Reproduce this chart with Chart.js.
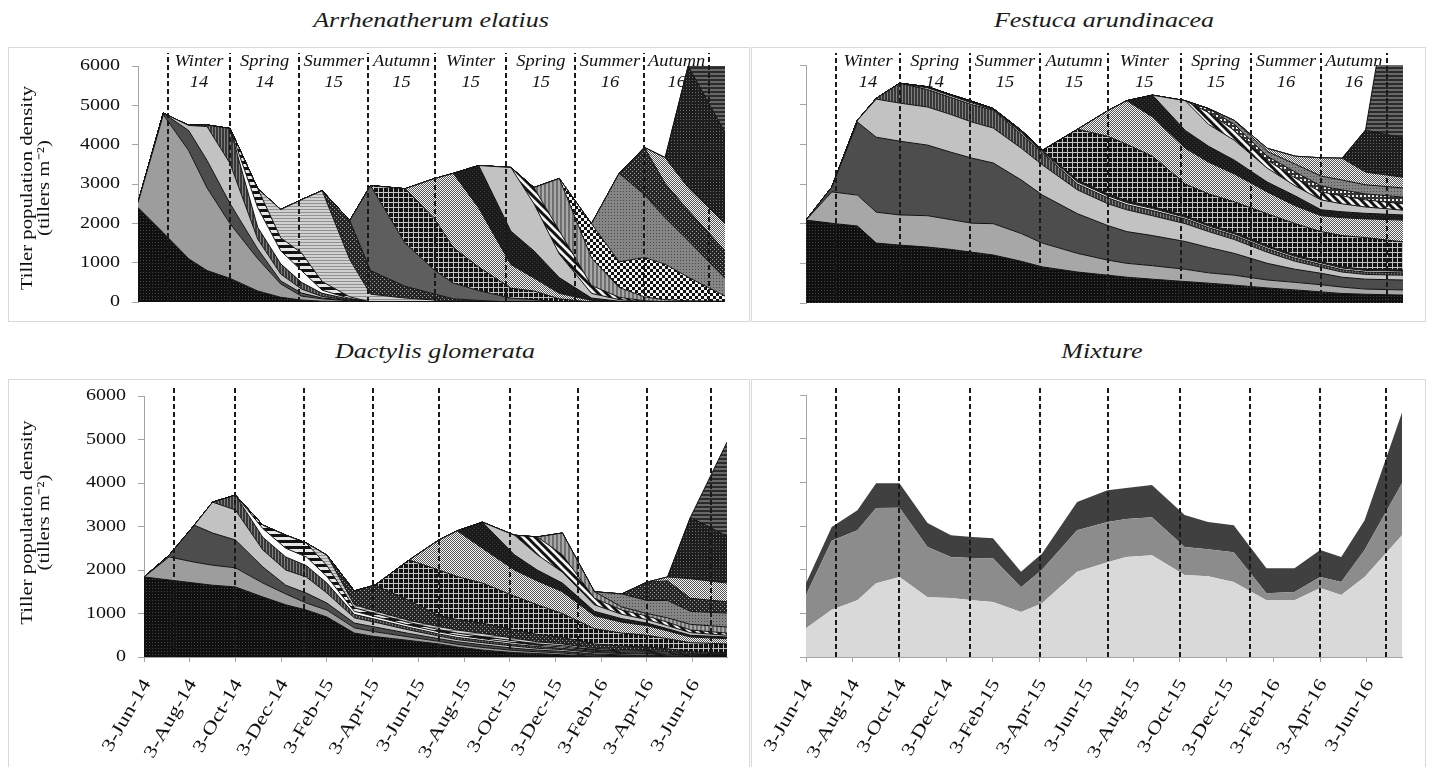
<!DOCTYPE html>
<html>
<head>
<meta charset="utf-8">
<script src="https://cdn.jsdelivr.net/npm/chart.js@4.4.0/dist/chart.umd.min.js"></script>
<style>
  html, body { margin: 0; padding: 0; background: #fff; }
  body { width: 1430px; height: 767px; position: relative; overflow: hidden; }
  .box { position: absolute; border: 1px solid #d9d9d9; box-sizing: border-box; }
  canvas { position: absolute; }
  .title {
    position: absolute; width: 400px; text-align: center; line-height: 24px;
    font: italic 20px "Liberation Serif", "Times New Roman", serif; color: #1a1a1a;
    transform: scaleX(1.3);
  }
</style>
</head>
<body>
<div class="box" style="left:8px;top:47px;width:742px;height:275px"></div>
<div class="box" style="left:751px;top:47px;width:675px;height:275px"></div>
<div class="box" style="left:8px;top:379px;width:742px;height:400px"></div>
<div class="box" style="left:751px;top:379px;width:675px;height:400px"></div>

<div class="title" style="left:231px;top:9px">Arrhenatherum elatius</div>
<div class="title" style="left:904px;top:9px">Festuca arundinacea</div>
<div class="title" style="left:235px;top:340px">Dactylis glomerata</div>
<div class="title" style="left:902px;top:340px">Mixture</div>

<canvas id="elatius" width="742" height="273" style="left:8px;top:47px"></canvas>
<canvas id="festuca" width="674" height="273" style="left:752px;top:47px"></canvas>
<canvas id="dactylis" width="742" height="389" style="left:8px;top:378px"></canvas>
<canvas id="mixture" width="674" height="389" style="left:752px;top:378px"></canvas>

<script>
// sampling dates, in months after 3-Jun-14
const sampleMonths = [0, 1.1, 2.2, 3.0, 4.0, 5.2, 6.2, 7.1, 8.0, 9.2, 10.1, 11.6, 12.9, 13.7, 14.8, 16.2, 17.2, 18.3, 19.7, 20.9, 22.0, 22.9, 23.9, 25.5];

// x tick labels (every two months)
const dateTicks = [0, 2, 4, 6, 8, 10, 12, 14, 16, 18, 20, 22, 24];
const dateLabels = ['3-Jun-14', '3-Aug-14', '3-Oct-14', '3-Dec-14', '3-Feb-15', '3-Apr-15', '3-Jun-15',
  '3-Aug-15', '3-Oct-15', '3-Dec-15', '3-Feb-16', '3-Apr-16', '3-Jun-16'];

// season boundaries (dashed lines) and their names
const seasonLines = [1.3, 4.0, 7.0, 10.0, 12.9, 16.0, 19.0, 22.0, 24.8];
const seasonNames = ['Winter', 'Spring', 'Summer', 'Autumn', 'Winter', 'Spring', 'Summer', 'Autumn'];
const seasonYears = ['14', '14', '15', '15', '15', '15', '16', '16'];

const yTitleLines = ['Tiller population density', '(tillers m\u207B\u00B2)'];

// tiller cohorts, tillers m-2 at each sampling date (bottom cohort first)
const elatiusCohorts = [
  [2400,1760,1100,800,600,280,120,50,20,10,0,0,0,0,0,0,0,0,0,0,0,0,0,0],
  [125,3000,2750,2100,1390,820,340,100,60,20,0,0,0,0,0,0,0,0,0,0,0,0,0,0],
  [0,40,510,700,510,250,75,80,20,10,0,0,0,0,0,0,0,0,0,0,0,0,0,0],
  [0,0,130,860,1020,250,175,100,40,10,0,0,0,0,0,0,0,0,0,0,0,0,0,0],
  [0,0,0,40,890,300,260,170,80,20,0,0,0,0,0,0,0,0,0,0,0,0,0,0],
  [0,0,0,0,0,500,330,300,80,20,0,0,0,0,0,0,0,0,0,0,0,0,0,0],
  [0,0,0,0,0,480,330,450,220,40,0,0,0,0,0,0,0,0,0,0,0,0,0,0],
  [0,0,0,0,0,0,720,1350,2310,950,200,100,50,0,0,0,0,0,0,0,0,0,0,0],
  [0,0,0,0,0,0,0,0,0,990,600,300,150,80,40,0,0,0,0,0,0,0,0,0],
  [0,0,0,0,0,0,0,0,0,0,2160,1100,600,400,250,100,60,0,0,0,0,0,0,0],
  [0,0,0,0,0,0,0,0,0,0,0,1380,1300,900,600,250,220,80,0,0,0,0,0,0],
  [0,0,0,0,0,0,0,0,0,0,0,0,1040,1890,1500,600,330,140,40,0,0,0,0,0],
  [0,0,0,0,0,0,0,0,0,0,0,0,0,0,1080,850,690,400,60,20,0,0,0,0],
  [0,0,0,0,0,0,0,0,0,0,0,0,0,0,0,1620,1200,600,120,40,10,0,0,0],
  [0,0,0,0,0,0,0,0,0,0,0,0,0,0,0,0,410,590,200,60,20,10,0,0],
  [0,0,0,0,0,0,0,0,0,0,0,0,0,0,0,0,0,1330,700,250,100,50,30,20],
  [0,0,0,0,0,0,0,0,0,0,0,0,0,0,0,0,0,0,870,650,1000,900,600,130],
  [0,0,0,0,0,0,0,0,0,0,0,0,0,0,0,0,0,0,0,2250,1600,1180,930,450],
  [0,0,0,0,0,0,0,0,0,0,0,0,0,0,0,0,0,0,0,0,1200,870,770,700],
  [0,0,0,0,0,0,0,0,0,0,0,0,0,0,0,0,0,0,0,0,0,660,580,690],
  [0,0,0,0,0,0,0,0,0,0,0,0,0,0,0,0,0,0,0,0,0,0,3090,2320],
  [0,0,0,0,0,0,0,0,0,0,0,0,0,0,0,0,0,0,0,0,0,0,0,1690]
];

const festucaCohorts = [
  [2090,2010,1940,1510,1460,1410,1350,1280,1210,1050,910,780,700,650,600,540,500,450,380,330,280,240,220,200],
  [0,790,780,780,760,790,750,730,790,700,600,470,380,350,340,310,260,250,200,190,180,160,130,130],
  [0,120,1840,1890,1860,1780,1700,1640,1530,1350,1210,1000,870,800,760,700,640,550,420,330,290,250,250,250],
  [0,0,50,960,960,960,950,910,880,800,760,600,550,550,500,450,400,350,280,200,150,130,120,120],
  [0,0,0,20,500,440,430,440,450,350,300,150,150,130,130,120,100,100,90,80,70,60,60,60],
  [0,0,0,0,0,40,40,40,20,40,30,50,50,50,50,40,40,40,40,40,40,40,40,40],
  [0,0,0,0,0,30,30,40,20,60,40,50,50,50,50,40,40,40,40,40,30,30,30,30],
  [0,0,0,0,0,0,0,0,0,0,0,1280,1450,1420,1270,800,770,770,800,790,760,790,800,710],
  [0,0,0,0,0,0,0,0,0,0,0,0,650,1100,990,900,800,700,550,450,400,450,470,550],
  [0,0,0,0,0,0,0,0,0,0,0,0,0,0,550,450,400,350,250,250,150,150,140,130],
  [0,0,0,0,0,0,0,0,0,0,0,0,0,0,0,750,550,500,350,250,250,200,160,120],
  [0,0,0,0,0,0,0,0,0,0,0,0,0,0,0,0,300,250,200,200,200,200,180,160],
  [0,0,0,0,0,0,0,0,0,0,0,0,0,0,0,0,100,150,100,150,150,150,150,170],
  [0,0,0,0,0,0,0,0,0,0,0,0,0,0,0,0,0,100,120,200,250,250,230,230],
  [0,0,0,0,0,0,0,0,0,0,0,0,0,0,0,0,0,0,80,200,460,550,320,270],
  [0,0,0,0,0,0,0,0,0,0,0,0,0,0,0,0,0,0,0,0,0,0,1060,990],
  [0,0,0,0,0,0,0,0,0,0,0,0,0,0,0,0,0,0,0,0,0,0,0,5840]
];

const dactylisCohorts = [
  [1840,1770,1700,1650,1610,1380,1200,1080,920,550,470,380,300,230,160,100,80,50,20,10,5,0,0,0],
  [0,530,480,460,440,320,250,160,160,120,110,80,60,60,60,50,40,40,20,20,15,10,0,0],
  [0,40,850,740,640,370,200,230,160,110,110,80,60,60,60,50,40,40,30,20,20,20,10,10],
  [0,0,0,710,690,390,350,370,230,120,110,80,60,50,50,50,40,40,30,30,30,20,20,10],
  [0,0,0,0,340,290,300,260,230,80,70,60,50,50,50,40,40,30,30,20,20,20,10,10],
  [0,0,0,0,0,200,200,200,150,70,60,50,50,50,40,40,30,30,20,20,20,20,10,10],
  [0,0,0,0,0,80,300,320,250,80,70,60,50,50,50,40,30,30,20,20,20,20,10,10],
  [0,0,0,0,0,0,0,0,240,70,60,50,70,70,70,60,50,40,30,20,20,20,20,10],
  [0,0,0,0,0,0,0,0,0,320,590,460,250,240,240,190,170,150,100,90,80,60,40,40],
  [0,0,0,0,0,0,0,0,0,0,0,930,1050,990,920,780,680,550,350,300,270,230,210,200],
  [0,0,0,0,0,0,0,0,0,0,0,0,690,1050,800,600,550,500,300,250,220,180,130,120],
  [0,0,0,0,0,0,0,0,0,0,0,0,0,0,600,350,250,200,100,80,60,50,40,40],
  [0,0,0,0,0,0,0,0,0,0,0,0,0,0,0,450,350,250,150,100,80,70,60,40],
  [0,0,0,0,0,0,0,0,0,0,0,0,0,0,0,0,410,400,150,100,80,80,60,50],
  [0,0,0,0,0,0,0,0,0,0,0,0,0,0,0,0,0,500,150,70,60,100,130,140],
  [0,0,0,0,0,0,0,0,0,0,0,0,0,0,0,0,0,0,0,300,300,400,300,320],
  [0,0,0,0,0,0,0,0,0,0,0,0,0,0,0,0,0,0,0,0,420,450,300,260],
  [0,0,0,0,0,0,0,0,0,0,0,0,0,0,0,0,0,0,0,0,0,90,450,430],
  [0,0,0,0,0,0,0,0,0,0,0,0,0,0,0,0,0,0,0,0,0,0,1410,1080],
  [0,0,0,0,0,0,0,0,0,0,0,0,0,0,0,0,0,0,0,0,0,0,0,2160]
];

const mixtureLight = [660,1080,1300,1690,1830,1370,1350,1300,1260,1030,1230,1950,2170,2290,2330,1880,1850,1720,1300,1300,1580,1420,1830,2790];
const mixtureMid = [760,1580,1600,1720,1590,1150,940,970,1000,570,770,950,920,870,870,640,620,680,160,190,250,300,620,1190];
const mixtureDark = [270,315,460,570,560,550,500,480,460,350,370,650,730,710,740,730,620,620,570,540,620,570,680,1620];

// fill style names per cohort
const elatiusFills = ['blackDots','grey','dark','light','vStripes','white','hStripesBold','hStripesFine','darkDots','dark2',
  'gridDark','checkFine','black','light','diag','vStripesGrey','checkBig','greyDots','darkDots','checkFine','darkDots2','hStripesDark'];
const festucaFills = ['blackDots','greyB','dark','light','vStripes','white','black','gridDark','checkFine','black','light',
  'diag','whiteDots','greyDots','checkFine','darkDots2','hStripesDark'];
const dactylisFills = ['blackDots','grey','dark','light','vStripes','white','hStripesBold','hStripesFine','darkDots','gridDark',
  'checkFine','black','light','diag','vStripesGrey','greyDots','darkDots','checkFine','darkDots2','hStripesDark'];
const mixtureFills = ['#d9d9d9', '#8c8c8c', '#404040'];

const TEXT = '#111';
const AXIS = '#a6a6a6';
const SERIF = '"Liberation Serif", "Times New Roman", serif';

function pattern(size, bg, paint) {
  const c = document.createElement('canvas');
  c.width = c.height = size;
  const g = c.getContext('2d');
  g.fillStyle = bg;
  g.fillRect(0, 0, size, size);
  paint(g);
  return g.createPattern(c, 'repeat');
}

const patterns = {
  blackDots: pattern(3, '#101010', g => { g.fillStyle = '#454545'; g.fillRect(0, 0, 1, 1); }),
  black: pattern(4, '#1b1b1b', g => { g.fillStyle = '#363636'; g.fillRect(0, 0, 1, 1); g.fillRect(2, 2, 1, 1); }),
  grey: '#9d9d9d',
  greyB: '#a7a7a7',
  dark: '#4d4d4d',
  dark2: '#5e5e5e',
  light: '#c2c2c2',
  white: '#fbfbfb',
  vStripes: pattern(3, '#383838', g => { g.fillStyle = '#808080'; g.fillRect(0, 0, 1, 3); }),
  vStripesGrey: pattern(4, '#a8a8a8', g => { g.fillStyle = '#6e6e6e'; g.fillRect(0, 0, 2, 4); }),
  hStripesBold: pattern(6, '#e6e6e6', g => { g.fillStyle = '#121212'; g.fillRect(0, 0, 6, 3); }),
  hStripesFine: pattern(3, '#d0d0d0', g => { g.fillStyle = '#909090'; g.fillRect(0, 0, 3, 1); }),
  hStripesDark: pattern(4, '#686868', g => { g.fillStyle = '#2b2b2b'; g.fillRect(0, 0, 4, 2); }),
  darkDots: pattern(4, '#262626', g => { g.fillStyle = '#a0a0a0'; g.fillRect(0, 0, 1, 1); g.fillRect(2, 2, 1, 1); }),
  darkDots2: pattern(3, '#1e1e1e', g => { g.fillStyle = '#6a6a6a'; g.fillRect(0, 0, 1, 1); }),
  gridDark: pattern(5, '#141414', g => { g.fillStyle = '#c4c4c4'; g.fillRect(0, 0, 5, 1); g.fillRect(0, 0, 1, 5); }),
  checkFine: pattern(2, '#f6f6f6', g => { g.fillStyle = '#555'; g.fillRect(0, 0, 1, 1); g.fillRect(1, 1, 1, 1); }),
  checkBig: pattern(6, '#f4f4f4', g => { g.fillStyle = '#111'; g.fillRect(0, 0, 3, 3); g.fillRect(3, 3, 3, 3); }),
  diag: pattern(8, '#f4f4f4', g => {
    g.strokeStyle = '#111'; g.lineWidth = 3; g.beginPath();
    g.moveTo(-2, -2); g.lineTo(10, 10); g.moveTo(-2, 6); g.lineTo(2, 10); g.moveTo(6, -2); g.lineTo(10, 2);
    g.stroke();
  }),
  greyDots: pattern(3, '#858585', g => { g.fillStyle = '#4a4a4a'; g.fillRect(0, 0, 1, 1); }),
  whiteDots: pattern(4, '#333', g => { g.fillStyle = '#eee'; g.fillRect(0, 0, 2, 2); })
};

function stretchText(ctx, text, x, y, sx, angle) {
  ctx.save();
  ctx.translate(x, y);
  if (angle) ctx.rotate(angle);
  ctx.scale(sx, 1);
  ctx.fillText(text, 0, 0);
  ctx.restore();
}

// season labels, dashed season lines and the wide serif axis text
const decor = {
  id: 'decor',
  beforeDatasetsDraw(chart, args, o) {
    if (!o.seasons) return;
    const ctx = chart.ctx, xs = chart.scales.x;
    ctx.save();
    ctx.fillStyle = TEXT;
    ctx.font = 'italic 16px ' + SERIF;
    ctx.textAlign = 'center';
    ctx.textBaseline = 'middle';
    seasonNames.forEach((name, i) => {
      const cx = (xs.getPixelForValue(seasonLines[i]) + xs.getPixelForValue(seasonLines[i + 1])) / 2;
      stretchText(ctx, name, cx, o.seasonY, 1.15);
      stretchText(ctx, seasonYears[i], cx, o.seasonY + 21, 1.15);
    });
    ctx.restore();
  },
  afterDatasetsDraw(chart, args, o) {
    const ctx = chart.ctx, area = chart.chartArea, xs = chart.scales.x;
    ctx.save();
    ctx.strokeStyle = '#1a1a1a';
    ctx.lineWidth = 2;
    ctx.setLineDash([5, 3]);
    seasonLines.forEach(m => {
      const x = Math.round(xs.getPixelForValue(m));
      ctx.beginPath();
      ctx.moveTo(x, area.bottom);
      ctx.lineTo(x, o.dashTop);
      ctx.stroke();
    });
    ctx.restore();
  },
  afterDraw(chart, args, o) {
    const ctx = chart.ctx, area = chart.chartArea;
    ctx.save();
    ctx.fillStyle = TEXT;
    if (o.yLabels) {
      const ys = chart.scales.y;
      ctx.font = '17px ' + SERIF;
      ctx.textAlign = 'right';
      ctx.textBaseline = 'middle';
      ys.ticks.forEach(t => stretchText(ctx, String(t.value), area.left - 18, ys.getPixelForValue(t.value), 1.18));
      ctx.font = '17px ' + SERIF;
      ctx.textAlign = 'center';
      const cy = (area.top + area.bottom) / 2 + o.titleShift;
      stretchText(ctx, yTitleLines[0], 20, cy, 1.22, -Math.PI / 2);
      stretchText(ctx, yTitleLines[1], 37, cy, 1.22, -Math.PI / 2);
    }
    if (o.xLabels) {
      const xs = chart.scales.x;
      ctx.font = '18px ' + SERIF;
      ctx.textAlign = 'right';
      ctx.textBaseline = 'middle';
      dateTicks.forEach((m, i) => stretchText(ctx, dateLabels[i], xs.getPixelForValue(m) + 3, area.bottom + 24, 1.25, -Math.PI / 3));
    }
    ctx.restore();
  }
};

function buildPanel(id, rows, fills, opt) {
  const datasets = rows.map((row, i) => ({
    label: 'Cohort ' + (i + 1),
    data: row,
    backgroundColor: patterns[fills[i]] || fills[i],
    borderColor: opt.lines ? '#111' : 'rgba(0,0,0,0)',
    borderWidth: opt.lines ? 1 : 0,
    fill: i === 0 ? 'origin' : '-1',
    pointRadius: 0,
    tension: 0
  }));
  return new Chart(document.getElementById(id), {
    type: 'line',
    data: { labels: sampleMonths, datasets },
    plugins: [decor],
    options: {
      responsive: false,
      animation: false,
      events: [],
      layout: { padding: { left: 0, right: opt.right, top: opt.top, bottom: opt.bottom } },
      plugins: {
        legend: { display: false },
        tooltip: { enabled: false },
        decor: opt.decor
      },
      scales: {
        x: {
          type: 'linear', min: 0, max: 25.5,
          display: opt.xAxis,
          afterBuildTicks: s => { s.ticks = dateTicks.map(v => ({ value: v })); },
          afterFit: s => { s.height = opt.xHeight; },
          ticks: { display: false },
          grid: { drawOnChartArea: false, tickLength: 5, color: AXIS },
          border: { color: AXIS }
        },
        y: {
          min: 0, max: 6000, stacked: true,
          afterFit: s => { s.width = opt.yWidth; },
          ticks: { display: false, stepSize: 1000 },
          grid: { drawOnChartArea: false, tickLength: 6, color: AXIS },
          border: { color: AXIS }
        }
      }
    }
  });
}

buildPanel('elatius', elatiusCohorts, elatiusFills, {
  lines: true, right: 25, top: 19, bottom: 18, xAxis: false, xHeight: 0, yWidth: 130,
  decor: { seasons: true, seasonY: 15, dashTop: 6, yLabels: true, titleShift: 4, xLabels: false }
});
buildPanel('festuca', festucaCohorts, festucaFills, {
  lines: true, right: 23, top: 18, bottom: 17, xAxis: false, xHeight: 0, yWidth: 54,
  decor: { seasons: true, seasonY: 15, dashTop: 6, yLabels: false, xLabels: false }
});
buildPanel('dactylis', dactylisCohorts, dactylisFills, {
  lines: true, right: 23, top: 18, bottom: 0, xAxis: true, xHeight: 110, yWidth: 136,
  decor: { seasons: false, dashTop: 10, yLabels: true, titleShift: -4, xLabels: true }
});
buildPanel('mixture', [mixtureLight, mixtureMid, mixtureDark], mixtureFills, {
  lines: false, right: 24, top: 17, bottom: 0, xAxis: true, xHeight: 110, yWidth: 54,
  decor: { seasons: false, dashTop: 10, yLabels: false, xLabels: true }
});
</script>
</body>
</html>
